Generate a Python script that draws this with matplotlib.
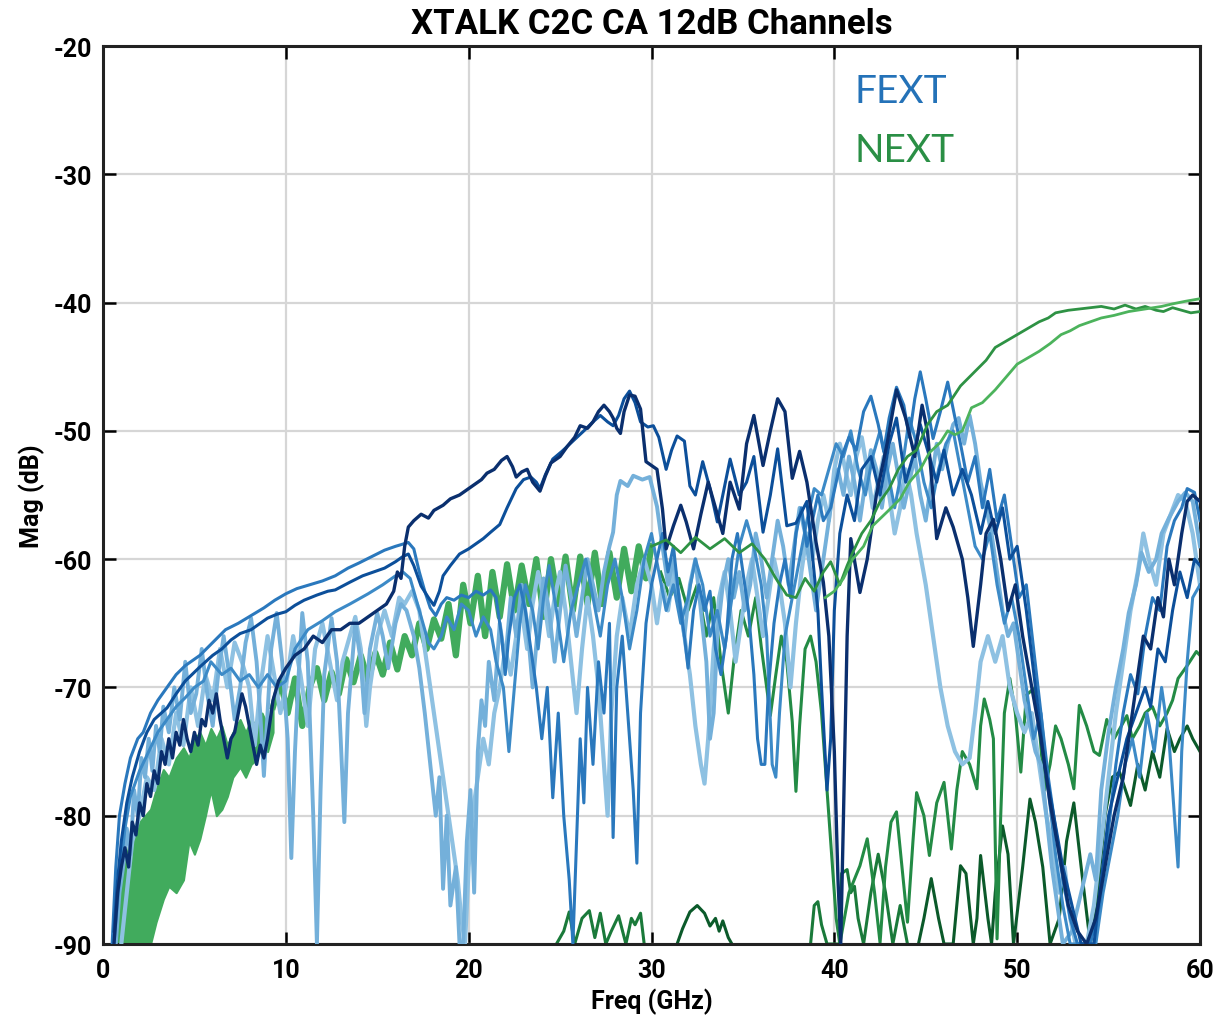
import matplotlib
matplotlib.use("Agg")
import matplotlib.pyplot as plt

# ---------------- data (GHz, dB) ----------------
fext_navy_ghz = [0.6,0.8,1.0,1.2,1.4,1.6,1.8,2.0,2.2,2.4,2.6,2.8,3.0,3.2,3.4,3.6,3.8,4.0,4.2,4.4,4.6,4.8,5.0,5.2,5.4,5.6,5.8,6.0,6.2,6.4,6.6,6.8,7.0,7.2,7.4,7.6,7.8,8.0,8.2,8.4,8.6,8.8,9.0,
    9.3,9.6,10.0,10.5,11.0,11.5,12.0,12.5,13.0,13.5,14.0,14.5,15.0,15.5,15.9,16.1,16.3,16.5,16.7,17.0,17.4,17.8,18.1,18.6,19.0,19.5,19.9,20.3,20.7,21.0,21.4,21.8,22.1,22.4,22.6,22.9,23.2,23.5,23.9,24.2,24.5,25.0,25.4,25.8,26.1,26.5,26.8,27.1,27.4,27.7,27.9,28.1,28.3,28.5,28.8,29.1,29.4,29.7,30.3,30.6,30.8,31.2,31.6,31.9,32.3,32.7,33.1,33.5,33.9,34.3,34.8,35.2,35.6,36.1,36.5,36.9,37.3,37.7,38.1,38.5,39.0,39.4,39.7,40.0,40.2,40.35,40.5,40.7,40.9,41.4,41.8,42.3,42.9,43.4,43.9,44.4,44.8,45.1,45.6,46.1,46.5,47.0,47.3,47.6,48.0,48.3,48.7,49.1,49.5,49.9,50.3,50.8,51.3,51.8,52.3,52.8,53.3,53.8,54.3,54.8,55.3,55.8,56.2,56.5,56.9,57.3,57.7,58.0,58.3,58.6,59.0,59.3,59.6,60.0]
fext_navy_db = [-90,-86,-84,-82.5,-84,-80.5,-81.5,-79,-80,-77.5,-78.5,-76.5,-77.5,-75,-76,-74,-75.5,-73.5,-74.5,-72.5,-74,-75,-73.5,-74.5,-72.5,-73,-71,-72,-70.5,-72.5,-74,-75.5,-74,-73.5,-72,-70.5,-71.5,-73,-74.5,-76,-74.5,-75.5,-74,
    -71,-69.5,-68.5,-67.5,-67,-66,-66.5,-65.5,-65.5,-65,-65,-64.5,-64,-63.5,-62.5,-61,-61.5,-59,-57.5,-57,-56.5,-56.8,-56.2,-55.8,-55.3,-55,-54.6,-54.2,-53.8,-53.3,-53,-52.3,-52,-52.8,-53.6,-53.2,-53,-54,-54.7,-53.5,-52.5,-52,-51.2,-50.5,-49.6,-49.8,-49.3,-48.5,-48,-48.5,-49,-49.8,-50.2,-48.5,-47.2,-47.3,-48.3,-52.4,-53,-56.1,-59.2,-57.4,-55.8,-57.1,-59.2,-56.5,-54,-56,-58,-54,-56.1,-51,-48.8,-52.7,-50,-47.5,-48.5,-53.7,-51.6,-54,-58.7,-61.8,-66,-75,-85,-90,-80,-66,-58.4,-62.6,-60,-55,-50.9,-46.8,-49,-52,-48,-50.1,-58.4,-56,-57.5,-60,-63,-66.8,-62,-58,-56.9,-60,-64,-62,-66,-70,-74,-79,-83,-87,-89,-90,-88,-84,-80,-77,-73,-70,-66,-67,-63,-64.5,-60,-62,-58,-55.5,-55,-55.5]

fext_dark_ghz = [0.6,0.8,1.0,1.3,1.6,2.0,2.4,2.8,3.5,4.0,4.5,5.3,6.0,6.5,7.0,7.5,8.1,8.6,9.0,9.5,10.0,10.5,11.0,11.7,12.3,12.7,13.5,14.2,15.0,15.4,16.0,16.4,16.7,
    17.0,17.4,17.8,18.1,18.4,18.6,19.0,19.5,20.0,20.4,20.8,21.2,21.7,22.1,22.6,23.0,23.4,23.7,23.9,24.2,24.6,25.1,25.7,26.3,26.8,27.2,27.6,27.9,28.2,28.5,28.8,29.1,29.4,29.8,30.1,30.4,30.8,31.1,31.4,31.8,32.1,32.4,32.8,33.2,33.6,33.9,34.3,34.8,35.2,35.6,36.1,36.5,36.9,37.4,37.9,38.5,38.8,39.1,39.3,39.6,39.8,40.0,40.3,40.7,41.1,41.5,42.0,42.5,43.0,43.4,43.9,44.3,44.7,45.2,45.6,46.0,46.5,47.0,47.5,48.0,48.4,48.8,49.2,49.6,50.0,50.5,51.0,51.5,52.0,52.5,53.0,53.5,54.2,54.6,55.0,55.5,56.0,56.5,57.0,57.3,57.7,58.1,58.5,58.9,59.3,59.7,60.0]
fext_dark_db = [-89,-85,-82,-79,-77,-75,-73.5,-72.5,-71.6,-70.5,-69.5,-68.4,-67.5,-67,-66.3,-65.8,-65.5,-65,-64.6,-64.3,-64.1,-63.6,-63.2,-62.8,-62.5,-62.4,-61.8,-61.3,-60.9,-60.7,-60.2,-59.8,-59.6,
    -60.5,-62.1,-63,-63.6,-62.5,-61.3,-60.5,-59.6,-59.2,-58.8,-58.4,-57.9,-57.3,-56,-54.5,-53.8,-53.6,-54,-54.5,-53.4,-52.2,-51.6,-50.8,-50,-49.3,-48.8,-49.3,-49.6,-48.8,-47.5,-46.9,-47.8,-49.3,-49.7,-49.6,-50.5,-53,-51.5,-50.4,-50.8,-54.3,-55,-52.4,-54.5,-57.1,-55,-52.2,-55,-54,-52,-57.9,-55,-51.4,-57.4,-57.2,-55.5,-59.7,-64,-70,-78,-74,-64,-58,-55,-57,-53,-52,-55,-51,-49,-54,-52,-49.5,-52,-54,-51.5,-55,-53,-55,-58,-55.5,-58,-56,-60,-59,-64,-70,-76,-80,-84,-87,-90,-90,-85,-80,-77,-74,-72,-70,-71.5,-67,-68,-64,-61,-63,-60,-60.5]

fext_mid_ghz = [0.5,0.7,0.9,1.2,1.5,1.9,2.2,2.6,3.0,3.5,4.0,4.5,5.3,6.0,6.7,7.4,8.1,8.8,9.4,10.0,10.6,11.3,12.0,12.7,13.4,14.0,14.7,15.4,16.0,16.7,17.0,17.3,17.6,17.9,18.2,18.5,18.8,19.2,19.6,20.0,20.4,20.8,21.2,21.5,21.8,22.0,22.2,22.5,22.8,23.1,23.4,23.7,24.0,24.3,24.6,24.9,25.2,25.5,25.7,25.9,26.1,26.3,26.5,26.8,27.1,27.4,27.7,27.9,28.1,28.4,28.7,29.0,29.2,29.4,29.7,30.0,30.3,30.6,30.9,31.2,31.5,31.8,32.0,32.3,32.6,32.9,33.2,33.5,33.8,34.1,34.4,34.7,35.0,35.3,35.6,35.8,36.0,36.2,36.4,36.7,37.0,37.3,37.6,37.9,38.2,38.5,38.8,39.1,39.4,39.8,40.1,40.4,40.8,41.2,41.6,42.0,42.4,42.7,43.0,43.4,43.8,44.1,44.4,44.7,45.0,45.4,45.8,46.2,46.6,46.9,47.3,47.7,48.1,48.5,48.9,49.3,49.7,50.1,50.5,50.9,51.3,51.7,52.1,52.5,52.9,53.3,54.0,54.5,55.0,55.4,55.8,56.2,56.6,57.0,57.4,57.8,58.2,58.6,59.0,59.3,59.7,60.0]
fext_mid_db = [-90,-84,-80,-77.5,-75.5,-74,-73.5,-72,-71,-70,-69,-68.3,-67.5,-66.5,-65.5,-65,-64.4,-63.8,-63.2,-62.7,-62.3,-62,-61.7,-61.3,-60.7,-60.3,-59.8,-59.3,-59,-58.7,-59.2,-61,-62.5,-63.8,-64.4,-63.5,-63,-63.2,-62.8,-63,-62.5,-62.8,-62.4,-63,-66,-69,-66,-63,-62,-64,-67,-70,-74,-70,-78.6,-72,-80,-85,-90,-82,-74,-79,-70,-76,-68,-72,-65,-81.7,-70,-66,-72,-78,-83.7,-72,-65,-62,-60,-58,-61,-59,-63,-66,-68.5,-64,-62,-64,-62.5,-67,-69,-66,-60,-58,-61,-64,-69,-74,-76,-76,-70,-65,-62,-60,-63,-58,-56,-59,-57,-55,-57,-56,-54,-52,-50.5,-51.5,-48.5,-47.3,-49.5,-51.6,-49,-46.6,-48,-50.5,-47.5,-45.4,-47.5,-50.6,-48.5,-46.2,-49,-51,-54,-52,-56,-53,-57,-55,-59,-63,-62,-67,-72,-77,-81,-85,-88,-90,-90,-87,-81,-76,-72,-69,-70.5,-66,-63,-64,-59,-57,-56,-54.5,-54.8,-57]

fext_med2_ghz = [0.6,0.9,1.2,1.5,2.0,2.5,3.0,3.5,4.0,4.5,5.0,5.5,5.9,6.5,7.0,7.5,8.0,8.5,9.0,9.5,10.0,10.5,11.2,12.0,12.7,13.5,14.5,15.3,16.0,16.4,16.8,17.1,17.4,17.8,18.1,18.5,18.8,19.2,19.6,20.0,20.4,20.8,21.2,21.5,21.9,22.2,22.5,22.8,23.1,23.5,23.8,24.1,24.4,24.8,25.2,25.6,26.0,26.4,26.8,27.2,27.6,28.0,28.4,28.8,29.2,29.6,30.0,30.4,30.8,31.2,31.6,32.0,32.4,32.8,33.2,33.6,34.0,34.4,34.8,35.2,35.6,36.0,36.3,36.6,36.8,37.0,37.3,37.7,38.1,38.5,38.9,39.3,39.7,40.1,40.5,40.9,41.3,41.7,42.1,42.5,42.9,43.3,43.7,44.1,44.5,44.9,45.3,45.7,46.1,46.5,46.9,47.3,47.7,48.1,48.5,48.9,49.3,49.7,50.1,50.5,50.9,51.3,51.7,52.1,52.5,52.9,54.3,54.7,55.1,55.5,55.9,56.3,56.7,57.1,57.5,57.9,58.3,58.6,58.8,59.0,59.3,59.6,60.0]
fext_med2_db = [-90,-85,-81,-78.5,-76.5,-75,-73.5,-72.5,-71.5,-70.8,-70,-69.5,-68,-69,-68.5,-69.5,-69,-70,-69,-70,-69.5,-67,-65.5,-64.8,-64.1,-63.5,-62.7,-62,-61.3,-61,-61.5,-63,-64.5,-66.5,-67,-66,-64.5,-65.5,-63.5,-64,-66,-64.5,-65.5,-68,-70,-75,-70,-65,-62,-64,-67,-63,-60.5,-64,-68,-64,-62,-60,-63,-66,-62,-60,-63,-67,-64,-60,-58,-61,-64,-62,-65,-63,-60,-62,-66,-64,-67,-63,-59,-57,-59,-62,-66,-76,-77,-72,-66,-63,-60,-57,-54.5,-55,-53,-51,-52,-50,-53,-55,-52,-50,-53,-56,-53,-49,-51,-54,-56,-53,-51,-50,-53,-56,-59,-60,-58,-62,-65,-63,-66,-70,-74,-72,-78,-83,-87,-90,-90,-86,-83,-80,-76,-74,-77,-72,-75,-70,-74,-80,-84,-75,-68,-63,-62]

fext_light_ghz = [0.7,0.9,1.1,1.3,1.5,1.7,1.9,2.1,2.3,2.5,2.7,2.9,3.1,3.3,3.6,3.9,4.2,4.5,4.8,5.1,5.4,5.7,6.0,6.3,6.6,6.9,7.2,7.5,7.8,8.1,8.4,8.6,8.8,9.0,9.2,9.5,9.8,10.1,10.3,10.5,10.7,10.9,11.2,11.5,11.7,11.9,12.1,12.5,12.8,13.0,13.2,13.4,13.8,14.1,14.3,14.6,15.0,15.3,15.6,16.0,16.3,16.6,17.0,17.3,17.6,17.9,18.2,18.4,18.6,18.8,19.0,19.3,19.5,19.7,19.9,20.1,20.3,20.5,20.7,20.9,21.1,21.4,21.7,22.0,22.3,22.6,22.9,23.2,23.5,23.8,24.1,24.4,24.7,25.0,25.3,25.6,25.9,26.2,26.5,26.8,27.1,27.4,27.7,27.9,28.1,28.3,28.7,29.0,29.5,29.9,30.3,30.6,30.9,31.2,31.5,31.8,32.1,32.4,32.7,33.0,33.2,33.4,33.6,33.9,34.2,34.5,34.8,35.1,35.4,35.7,36.0,36.3,36.6,36.9,37.2,37.5,37.8,38.1,38.4,38.7,39.0,39.3,39.6,39.9,40.2,40.5,40.8,41.1,41.4,41.7,42.0,42.3,42.6,42.9,43.2,43.5,43.8,44.1,44.4,44.7,45.0,45.3,45.6,45.9,46.2,46.5,46.8,47.1,47.4,47.7,48.0,48.3,48.6,48.9,49.2,49.5,49.8,50.1,50.4,50.7,51.0,51.3,51.6,51.9,52.2,52.5,53.0,53.5,54.0,54.3,54.6,55.0,55.4,55.8,56.1,56.5,56.8,57.2,57.6,57.9,58.3,58.8,59.2,59.6,60.0]
fext_light_db = [-90,-86,-84,-81,-83,-78,-80,-75.5,-77,-74,-76.5,-73,-75,-71.5,-73.5,-70,-72.5,-68,-72,-70.5,-67,-70.5,-73,-69,-66,-69,-72.5,-70,-66.5,-64.6,-68,-72,-76.9,-72,-67,-64.2,-68,-74,-83.3,-75,-69,-64.2,-68,-80,-90,-78,-69,-64.6,-68,-74,-80.5,-72,-65,-68,-72,-67,-64.2,-66,-68.5,-65,-63.5,-64,-66,-68.5,-72,-76,-80,-77,-85.7,-80,-87,-84,-90,-90,-82,-78,-86,-75,-71,-73,-68,-71,-65,-68,-63,-66,-62,-65,-70,-65,-61.5,-64,-68,-64,-60.5,-63,-66,-63,-60,-62,-64,-61,-59,-57.9,-55,-53.9,-54.3,-53.5,-53.8,-53.6,-55.9,-59,-62,-60,-63,-66,-62,-60,-64,-68,-74,-72,-66,-62,-60,-63,-61,-64,-62,-58,-60,-63,-60,-57,-59,-62,-59,-56,-58,-61,-64,-61,-58,-55,-53,-55,-52,-54,-57,-54,-51.5,-53,-56,-53,-51,-53.5,-56,-54,-52,-55,-57,-54,-51,-53,-51,-49.5,-49,-51,-48.8,-51,-54,-56,-58,-61,-64,-66,-65,-68,-71,-73,-75,-76,-80,-84,-87,-90,-89,-86,-83,-85,-78,-73.5,-70,-67,-64.2,-62,-59.5,-61,-60,-58,-56.8,-55.5,-54.8,-55.5,-59]

fext_pale_ghz = [1.0,1.3,1.6,2.0,2.4,2.8,3.2,3.6,4.0,4.4,4.8,5.2,5.6,6.0,6.4,6.8,7.2,7.6,8.0,8.3,8.6,9.0,9.3,9.7,10.0,10.4,10.8,11.2,11.6,12.0,12.4,12.8,13.1,13.5,13.8,14.1,14.4,14.6,15.0,15.4,15.8,16.2,16.5,16.9,17.3,17.6,17.9,18.2,18.5,18.8,19.1,19.4,19.6,19.8,20.0,20.2,20.5,20.8,21.1,21.4,21.7,22.0,22.3,22.6,22.9,23.2,23.5,23.8,24.1,24.4,24.7,25.0,25.3,25.6,25.9,26.2,26.5,26.8,27.1,27.4,27.6,27.8,28.1,28.4,28.8,29.2,29.6,30.0,30.3,30.6,30.9,31.2,31.5,31.8,32.1,32.4,32.7,32.9,33.1,33.4,33.7,34.0,34.3,34.6,34.9,35.2,35.5,35.8,36.1,36.4,36.7,37.0,37.3,37.6,37.9,38.2,38.5,38.8,39.1,39.4,39.7,40.0,40.3,40.6,40.9,41.2,41.5,41.8,42.1,42.4,42.7,43.0,43.3,43.6,43.9,44.2,44.5,45.0,45.4,45.8,46.2,46.6,47.0,47.4,47.7,48.0,48.4,48.8,49.2,49.6,50.0,50.4,50.8,51.2,51.6,52.0,52.3,52.6,52.9,53.2,53.8,54.2,54.6,55.0,55.4,55.8,56.2,56.6,56.9,57.2,57.6,58.0,58.4,58.8,59.2,59.6,60.0]
fext_pale_db = [-90,-86,-82,-80,-77,-78,-74,-76,-72,-74.5,-70,-73,-69,-71,-67,-70,-66.5,-68,-70,-74.5,-70,-66,-68.5,-72,-70,-66,-69,-73,-67,-65,-68,-71,-68,-66,-64.5,-67,-73,-70,-66,-64,-66,-63,-63.5,-62.5,-64,-67,-70,-73,-76,-79,-82,-85,-88,-90,-84,-80,-77,-74,-76,-72,-70,-67,-69,-66,-64,-67,-63.5,-61,-63,-66,-63,-61,-64,-68,-72,-67,-63,-66,-70,-76,-80,-72,-66,-63,-66,-62,-60,-62,-65,-62,-64,-61,-63,-66,-69,-73,-76,-77.5,-74,-67,-63,-61,-64,-68,-65,-62,-60,-63,-66,-63,-60,-62,-65,-70,-65,-61,-58,-60,-57,-55,-57,-53,-51,-53,-55,-52,-50.5,-53,-56,-54,-52,-55,-58,-56,-53,-55,-58,-62,-66,-70,-73,-75,-76,-75.5,-72,-68,-66,-68,-66,-70,-72,-73.5,-72,-76,-80,-83,-86,-84,-88,-90,-90,-87,-82,-77,-72,-68,-64,-61,-58,-60,-62,-58,-56.5,-55,-55.5,-58,-62]

# NEXT: low-frequency dense band (upper / lower envelopes)
next_band_ghz = [0.5,0.9,1.3,1.6,2.0,2.3,2.6,2.9,3.3,3.6,4.0,4.4,4.7,5.0,5.3,5.6,5.9,6.2,6.5,6.8,7.1,7.5,7.8,8.1,8.4,8.7,9.0,9.3]
next_band_hi = [-90,-85.5,-83,-81,-80.5,-80,-79.5,-78,-76.4,-77,-75.5,-74.7,-75.5,-74,-73.5,-74.5,-73.2,-74,-73,-74.5,-73.5,-72.5,-73.5,-72.5,-73,-72,-73,-71.5]
next_band_lo = [-90,-90,-90,-90,-90,-90,-90,-88.3,-86.5,-85.5,-86,-85,-82,-83,-81.8,-80,-78,-80,-79.5,-78.5,-77,-76.2,-77,-76,-75.6,-74.5,-75,-73.5]

next_ripple_ghz = [9.3,9.7,10.1,10.5,10.9,11.3,11.7,12.1,12.5,12.9,13.3,13.7,14.1,14.5,14.9,15.3,15.7,16.1,16.5,16.9,17.3,17.7,18.1,18.5,18.9,19.3,19.7,20.1,20.5,20.9,21.3,21.7,22.1,22.5,22.9,23.3,23.7,24.1,24.5,24.9,25.3,25.7,26.1,26.5,26.9,27.3,27.7,28.1,28.5,28.9,29.3,29.7,30.0]
next_ripple_db = [-71.5,-69.5,-72,-69.3,-73,-70,-68.5,-71,-68.8,-70.5,-67.8,-69.6,-67.5,-69.5,-67.3,-69,-66.5,-68.6,-66,-67.5,-65,-67,-64.7,-66.2,-63.5,-67.5,-62,-65,-61.3,-66,-61,-64.5,-60.4,-64,-60.5,-63.5,-60,-64.5,-60,-63.5,-59.8,-64,-59.8,-63.5,-59.5,-63.5,-59.5,-63,-59.2,-62.5,-59,-61.5,-59]

next_up_ghz = [30.0,30.8,31.6,32.4,33.2,34.0,34.8,35.5,36.2,36.8,37.4,37.9,38.4,38.9,39.4,39.8,40.3,40.7,41.0,41.5,42.0,42.5,43.0,43.5,44.0,44.5,45.1,45.6,46.2,46.9,47.6,48.3,48.8,49.4,50.0,50.6,51.2,51.7,52.1,52.8,53.4,54.0,54.6,55.3,55.9,56.5,57.0,57.6,58.0,58.5,59.0,59.5,60.0]
next_up_db = [-59,-58.5,-59.5,-58.3,-59.2,-58.4,-59.5,-58.8,-60,-61.5,-62.8,-63,-61.5,-62.5,-61,-60.2,-62,-60.5,-59.5,-58,-57,-55.5,-54.5,-53,-52,-51.5,-49.5,-48.5,-48,-46.5,-45.5,-44.5,-43.5,-43,-42.5,-42,-41.5,-41.2,-40.8,-40.6,-40.5,-40.4,-40.3,-40.5,-40.2,-40.5,-40.3,-40.6,-40.7,-40.4,-40.6,-40.8,-40.7]

next_lt_ghz = [39.5,40.0,40.5,41.0,41.6,42.1,42.9,43.6,44.1,44.7,45.2,45.8,46.2,46.6,47.0,47.5,48.1,48.8,49.4,50.0,50.6,51.2,51.8,52.4,52.9,53.4,54.0,54.6,55.3,56.1,57.0,57.9,58.5,59.2,60.0]
next_lt_db = [-63,-62.5,-61.5,-60,-59,-57.4,-56.3,-55.3,-54,-53,-51.7,-50.9,-50,-50.3,-50,-48.2,-47.8,-46.8,-45.8,-44.8,-44.3,-43.8,-43.2,-42.5,-42.2,-41.8,-41.5,-41.2,-41,-40.7,-40.5,-40.3,-40.1,-39.9,-39.7]

next_mid_ghz = [30.5,31.0,31.5,32.0,32.5,33.0,33.4,33.8,34.2,34.5,34.9,35.3,35.7,36.0,36.3,36.5,36.8,37.1,37.4,37.7,37.9,38.1,38.4,38.7,39.0,39.3,39.6,39.9,40.1,40.3,40.8,41.4,41.8,42.2,42.5,42.8,43.1,43.4,43.7,44.0,44.3,44.5,44.9,45.2,45.6,46.0,46.4,46.7,47.0,47.4,47.8,48.0,48.2,48.5,48.7,48.8,48.9,49.1,49.3,49.6,49.9,50.2,50.5,50.9,51.2,51.5,51.8,52.1,52.4,52.8,53.1,53.4,53.8,54.2,54.5,54.9,55.3,55.7,56.0,56.3,56.7,57.0,57.4,57.8,58.2,58.5,58.8,59.3,59.8,60.0]
next_mid_db = [-61,-63,-61.5,-64,-62,-66,-63,-68,-72,-68,-64,-66,-63,-66.8,-70,-72.2,-69,-66,-68,-72.7,-78.1,-73,-67,-66,-68,-72,-78,-84,-88,-90,-86,-83.9,-81.8,-86,-89.9,-84,-80.5,-79.7,-84,-88.3,-82,-78.2,-80,-83.1,-79,-77.4,-82.6,-78,-75,-76,-77.9,-73,-70.9,-72.5,-74,-82,-89.6,-80,-72,-69.3,-72,-76.6,-70.6,-70.1,-73,-78,-76,-73,-74,-76,-77.9,-71.4,-73,-75,-75.3,-72.5,-74,-73,-72.2,-74,-73,-72,-71.5,-73,-72,-71,-69.3,-68.3,-67.2,-67.5]

next_dark_ghz = [44.6,44.9,45.3,45.7,46.0,46.5,46.9,47.2,47.6,47.8,48.0,48.4,48.6,48.8,49.2,49.5,49.8,50.3,50.7,51.0,51.4,51.8,52.3,52.7,53.1,53.5,54.0,54.4,54.8,55.2,55.6,56.2,56.6,57.0,57.4,57.8,58.2,58.6,58.9,59.3,59.6,60.0]
next_dark_db = [-90,-88,-84.9,-88,-90,-90,-83.9,-84.5,-90,-88,-83.1,-88,-90,-86,-80.8,-83,-90,-84,-78.7,-80.5,-84,-90,-88,-82,-79,-84,-90,-86,-80,-77,-76.6,-79.2,-76,-78,-75,-77,-73.2,-75,-74,-73,-74,-75]

next_bump1_ghz = [24.8,25.2,25.5,25.8,26.2,26.6,26.9,27.2,27.5,27.8,28.2,28.6,28.9,29.1,29.4,29.6]
next_bump1_db = [-90,-89,-87.5,-90,-88,-87.4,-89.5,-87.6,-90,-89,-87.8,-90,-88,-88.5,-87.6,-90]

next_bump2_ghz = [31.4,31.7,32.1,32.5,32.9,33.2,33.5,33.7,33.9,34.2,34.4]
next_bump2_db = [-90,-88.8,-87.5,-87,-87.6,-88.6,-88,-89,-88.2,-89.5,-90]

next_bump3_ghz = [38.7,38.9,39.1,39.3,39.6,40.3,40.4,40.7,40.9,41.1,41.3,41.6,42.0,42.4,42.8,43.2,43.6,44.0]
next_bump3_db = [-90,-87,-86.7,-88.5,-90,-90,-84.5,-84.2,-86,-85.5,-88,-90,-86,-83,-86,-90,-87,-90]

x_ticks = [0, 10, 20, 30, 40, 50, 60]
y_ticks = [-20, -30, -40, -50, -60, -70, -80, -90]
title_text = "XTALK C2C CA 12dB Channels"
x_label = "Freq (GHz)"
y_label = "Mag (dB)"

# ---------------- drawing ----------------
plt.rcParams['font.family'] = ['Roboto', 'DejaVu Sans']
fig = plt.figure(figsize=(12.24, 10.20), dpi=100)
ax = fig.add_axes([103/1224, 75/1020, 1097/1224, 898/1020])

# NEXT (drawn first, beneath)
ax.fill_between(next_band_ghz, next_band_lo, next_band_hi, color='#41ab5d', lw=1.5, ec='#41ab5d', zorder=2)
ax.plot(next_ripple_ghz, next_ripple_db, color='#41ab5d', lw=4.5, zorder=2)
ax.plot(next_bump1_ghz, next_bump1_db, color='#1a7a3a', lw=2.2, zorder=2)
ax.plot(next_bump2_ghz, next_bump2_db, color='#0b5a2a', lw=2.2, zorder=2)
ax.plot(next_bump3_ghz, next_bump3_db, color='#1a7a3a', lw=2.2, zorder=2)
ax.plot(next_dark_ghz, next_dark_db, color='#0b5a2a', lw=2.2, zorder=2)
ax.plot(next_mid_ghz, next_mid_db, color='#238b45', lw=2.2, zorder=2)

# FEXT
ax.plot(fext_pale_ghz, fext_pale_db, color='#8ec1e2', lw=3.0, zorder=3)
ax.plot(fext_light_ghz, fext_light_db, color='#74b0da', lw=2.8, zorder=3)
ax.plot(fext_med2_ghz, fext_med2_db, color='#3c8ac7', lw=2.2, zorder=3)
ax.plot(fext_mid_ghz, fext_mid_db, color='#2a78bd', lw=2.2, zorder=3)
ax.plot(fext_dark_ghz, fext_dark_db, color='#0c4f9a', lw=2.2, zorder=3)
ax.plot(fext_navy_ghz, fext_navy_db, color='#0a2f6e', lw=2.4, zorder=3)

# NEXT thin upper lines (on top)
ax.plot(next_up_ghz, next_up_db, color='#2e9244', lw=2.0, zorder=4)
ax.plot(next_lt_ghz, next_lt_db, color='#4cb35c', lw=2.0, zorder=4)

ax.set_xlim(0, 60)
ax.set_ylim(-90, -20)
ax.set_xticks(x_ticks)
ax.set_yticks(y_ticks)
ax.set_xticklabels([str(v) for v in x_ticks], fontsize=18, fontweight='bold')
ax.set_yticklabels([str(v) for v in y_ticks], fontsize=18, fontweight='bold')
ax.tick_params(direction='in', length=9, width=1.8, top=True, right=True)
ax.tick_params(axis='x', pad=10)
ax.tick_params(axis='y', pad=8)
ax.grid(True, color='#d6d6d6', lw=1.6)
ax.set_axisbelow(True)
for s in ax.spines.values():
    s.set_linewidth(2.2)
    s.set_color('#222222')

ax.set_title(title_text, fontsize=25, fontweight='bold', pad=9)
ax.set_xlabel(x_label, fontsize=18, fontweight='bold', labelpad=4)
ax.set_ylabel(y_label, fontsize=18, fontweight='bold', labelpad=6)

ax.text(41.1, -24.4, "FEXT", color='#2472b8', fontsize=28, family=['Lato', 'DejaVu Sans'], va='baseline', ha='left', zorder=5)
ax.text(41.1, -29.0, "NEXT", color='#2a8f45', fontsize=28, family=['Lato', 'DejaVu Sans'], va='baseline', ha='left', zorder=5)

fig.savefig("out.png", dpi=100)
